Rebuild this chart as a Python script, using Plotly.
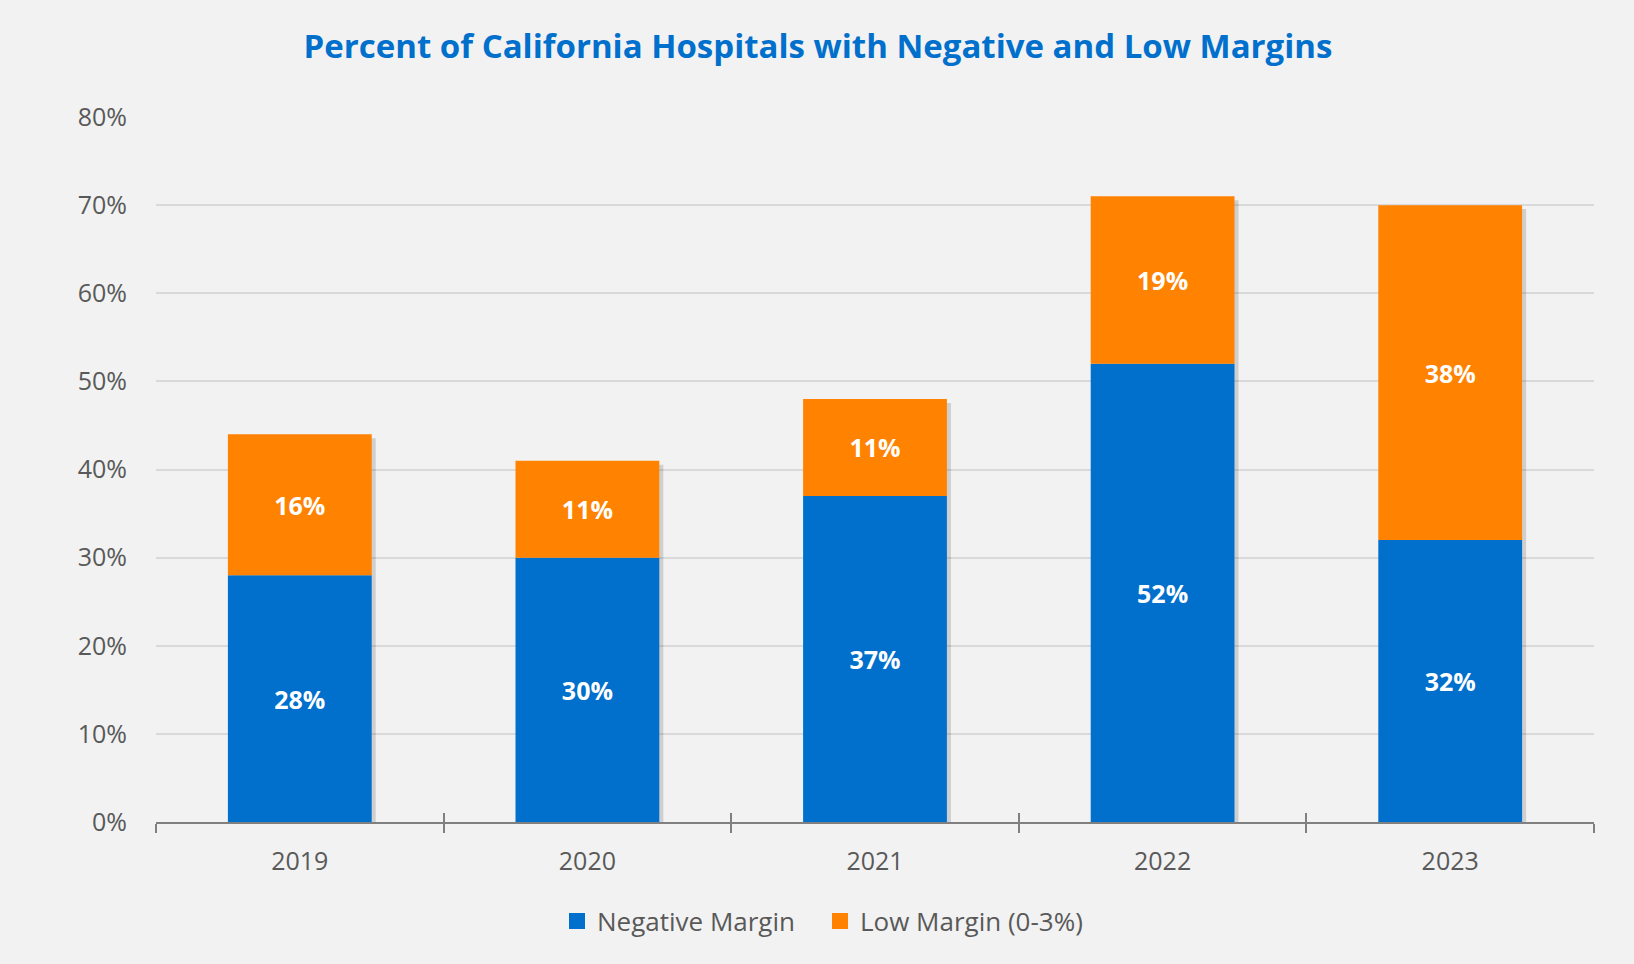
import plotly.graph_objects as go

years = ["2019", "2020", "2021", "2022", "2023"]
negative_margin = [28, 30, 37, 52, 32]
low_margin = [16, 11, 11, 19, 38]
totals = [n + l for n, l in zip(negative_margin, low_margin)]

BLUE = "#0070CC"
ORANGE = "#FF8200"
TEXT = "#595959"
AXIS = "#808080"
FONT = "Open Sans"

fig = go.Figure()

# soft drop shadow behind each stacked column
fig.add_trace(go.Bar(
    x=years, y=totals, base=-0.45, width=0.5, offset=-0.236,
    marker=dict(color="rgba(0,0,0,0.14)", line=dict(width=0)),
    showlegend=False, hoverinfo="skip",
))

fig.add_trace(go.Bar(
    x=years, y=negative_margin, name="Negative Margin", width=0.5,
    marker=dict(color=BLUE, line=dict(width=0)), showlegend=False,
    texttemplate="%{y:.0f}%", textposition="inside", insidetextanchor="middle",
    textangle=0, constraintext="none",
    textfont=dict(family=FONT, size=25, color="white", weight="bold"),
))

fig.add_trace(go.Bar(
    x=years, y=low_margin, base=negative_margin, name="Low Margin (0-3%)", width=0.5,
    marker=dict(color=ORANGE, line=dict(width=0)), showlegend=False,
    texttemplate="%{y:.0f}%", textposition="inside", insidetextanchor="middle",
    textangle=0, constraintext="none",
    textfont=dict(family=FONT, size=25, color="white", weight="bold"),
))

# invisible trace on the overlay axis, which only draws the upper halves of the boundary ticks
fig.add_trace(go.Scatter(
    x=years, y=negative_margin, mode="markers", marker=dict(opacity=0),
    showlegend=False, hoverinfo="skip", xaxis="x2", yaxis="y",
))

# legend entries with larger square swatches, one legend each for exact placement
for name, color, leg in [("Negative Margin", BLUE, "legend"), ("Low Margin (0-3%)", ORANGE, "legend2")]:
    fig.add_trace(go.Scatter(
        x=[None], y=[None], mode="markers", name=name, legend=leg,
        marker=dict(symbol="square", size=16, color=color),
        hoverinfo="skip",
    ))

legend_common = dict(
    orientation="h", xref="container", xanchor="left",
    y=1 - 921 / 964, yref="container", yanchor="middle",
    font=dict(family=FONT, size=26, color=TEXT),
    bgcolor="rgba(0,0,0,0)", itemsizing="trace",
)

fig.update_layout(
    width=1634, height=964,
    barmode="overlay",
    paper_bgcolor="#F2F2F2", plot_bgcolor="#F2F2F2",
    margin=dict(l=156, r=40, t=117, b=142),
    font=dict(family=FONT, color=TEXT),
    title=dict(
        text="<b>Percent of California Hospitals with Negative and Low Margins</b>",
        font=dict(family=FONT, size=33, color=BLUE),
        x=818 / 1634, xref="container", xanchor="center",
        y=1 - 46 / 964, yref="container", yanchor="middle",
    ),
    legend=dict(x=557 / 1634, **legend_common),
    legend2=dict(x=820 / 1634, **legend_common),
    showlegend=True,
    hovermode=False,
    xaxis=dict(
        type="category", showgrid=False,
        showline=True, linecolor=AXIS, linewidth=2,
        ticks="outside", tickson="boundaries", ticklen=9, tickcolor=AXIS, tickwidth=2,
        tickfont=dict(family=FONT, size=25, color=TEXT),
        ticklabelstandoff=16,
    ),
    xaxis2=dict(
        type="category", overlaying="x", matches="x", side="bottom",
        showgrid=False, showline=False, showticklabels=False,
        ticks="inside", tickson="boundaries", ticklen=9, tickcolor=AXIS, tickwidth=2,
    ),
    yaxis=dict(
        range=[0, 80], dtick=10, ticksuffix="%",
        showgrid=True, gridcolor="#D9D9D9", gridwidth=1.5,
        zeroline=False, showline=False,
        tickfont=dict(family=FONT, size=25, color=TEXT),
        ticklabelstandoff=28,
    ),
)

fig.write_html(
    "out.html",
    config={"displayModeBar": False},
    post_script="document.body.style.margin='0';",
)
